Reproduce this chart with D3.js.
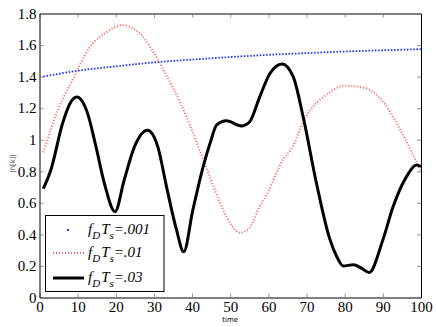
<!DOCTYPE html>
<html>
<head>
<meta charset="utf-8">
<script src="https://cdn.jsdelivr.net/npm/d3@7"></script>
</head>
<body style="margin:0">
<svg id="chart" width="436" height="327" font-family="Liberation Serif"></svg>
<script>
// values
const xTicks = [0, 10, 20, 30, 40, 50, 60, 70, 80, 90, 100]
const yTicks = [0, 0.2, 0.4, 0.6, 0.8, 1, 1.2, 1.4, 1.6, 1.8]

const blueT = [1, 10, 20, 30, 40, 50, 60, 70, 80, 90, 100]
const blueV = [1.40, 1.437, 1.465, 1.49, 1.508, 1.524, 1.538, 1.549, 1.559, 1.567, 1.574]

const redT = [1, 5, 8.7, 13, 17.5, 21.4, 26, 30, 33, 37, 43, 47, 50, 52.5, 55, 57.7, 59.5, 64, 66, 69.7, 75.5, 80, 85, 89, 95.5, 98.4, 100]
const redV = [0.92, 1.2, 1.38, 1.58, 1.68, 1.726, 1.68, 1.55, 1.42, 1.23, 0.87, 0.62, 0.47, 0.41, 0.44, 0.576, 0.65, 0.88, 0.94, 1.14, 1.29, 1.342, 1.33, 1.27, 1.02, 0.88, 0.80]

const blackT = [1, 3, 6, 8, 9.8, 12.6, 14.8, 17, 19.8, 22.2, 24.9, 28.3, 31, 33.4, 35.9, 37.8, 40.2, 42.9, 45, 46.4, 49, 52.9, 55.1, 57.7, 60.4, 63.6, 66.5, 69.1, 72.6, 76.1, 77.9, 79.6, 82.3, 84.4, 86.4, 90, 92.7, 96.2, 98.8, 100]
const blackV = [0.69, 0.81, 1.10, 1.23, 1.27, 1.167, 0.956, 0.724, 0.545, 0.745, 0.956, 1.06, 0.956, 0.69, 0.43, 0.29, 0.555, 0.83, 1.0, 1.093, 1.12, 1.087, 1.114, 1.27, 1.42, 1.48, 1.40, 1.146, 0.724, 0.37, 0.26, 0.20, 0.207, 0.186, 0.158, 0.365, 0.576, 0.766, 0.84, 0.83]

const legendLabels = ['.001', '.01', '.03']

const margin = { top: 13.5, right: 15, bottom: 29.5, left: 39.5 }
const width = 436, height = 327
const svg = d3.select('#chart')

const x = d3.scaleLinear().domain([0, 100]).range([margin.left, width - margin.right])
const y = d3.scaleLinear().domain([0, 1.8]).range([height - margin.bottom, margin.top])

// axes, ticks pointing inward (box with mirrored ticks)
const axes = [
  svg.append('g')
    .attr('transform', `translate(0,${y(0)})`)
    .call(d3.axisBottom(x).tickValues(xTicks).tickSizeInner(-4).tickSizeOuter(0).tickPadding(4).tickFormat(d3.format('d'))),
  svg.append('g')
    .attr('transform', `translate(0,${y(1.8)})`)
    .call(d3.axisTop(x).tickValues(xTicks).tickSizeInner(-4).tickSizeOuter(0).tickFormat('')),
  svg.append('g')
    .attr('transform', `translate(${x(0)},0)`)
    .call(d3.axisLeft(y).tickValues(yTicks).tickSizeInner(-4).tickSizeOuter(0).tickPadding(3).tickFormat(d => d3.format('~g')(d))),
  svg.append('g')
    .attr('transform', `translate(${x(100)},0)`)
    .call(d3.axisRight(y).tickValues(yTicks).tickSizeInner(-4).tickSizeOuter(0).tickFormat('')),
]
axes.forEach(g => g.attr('font-family', null).attr('font-size', null))

svg.selectAll('.tick text')
  .attr('font-family', 'Liberation Serif')
  .attr('font-size', 15)
  .attr('fill', '#000')
svg.selectAll('.domain').attr('stroke', '#000').attr('stroke-width', 1)
svg.selectAll('.tick line').attr('stroke', '#777').attr('stroke-width', 0.8)

// axis titles
svg.append('text')
  .attr('x', x(50)).attr('y', 322)
  .attr('text-anchor', 'middle')
  .attr('font-family', 'DejaVu Sans').attr('font-size', 7)
  .text('time')
svg.append('text')
  .attr('transform', `translate(15,${y(0.85)}) rotate(-90)`)
  .attr('text-anchor', 'middle')
  .attr('font-family', 'DejaVu Sans').attr('font-size', 7).attr('fill', '#444')
  .text('|h[k]|')

const line = d3.line()
  .x(d => x(d[0]))
  .y(d => y(d[1]))
  .curve(d3.curveMonotoneX)

const plot = svg.append('g')

plot.append('path')
  .datum(d3.zip(blueT, blueV))
  .attr('fill', 'none')
  .attr('stroke', '#1a3cff')
  .attr('stroke-width', 1.8)
  .attr('stroke-dasharray', '1.6,1.6')
  .attr('d', line)

plot.append('path')
  .datum(d3.zip(redT, redV))
  .attr('fill', 'none')
  .attr('stroke', '#ff5a5a')
  .attr('stroke-width', 2)
  .attr('stroke-dasharray', '1,2')
  .attr('d', line)

plot.append('path')
  .datum(d3.zip(blackT, blackV))
  .attr('fill', 'none')
  .attr('stroke', '#000')
  .attr('stroke-width', 3)
  .attr('stroke-linejoin', 'round')
  .attr('d', line)

// legend
const legend = svg.append('g')
legend.append('rect')
  .attr('x', 45.5).attr('y', 215.5).attr('width', 118.5).attr('height', 76)
  .attr('fill', '#fff').attr('stroke', '#000').attr('stroke-width', 1)

const rows = [230, 253, 278]
legend.append('rect')
  .attr('x', 67).attr('y', rows[0] - 1).attr('width', 2).attr('height', 2)
  .attr('fill', '#1a3cff')
legend.append('line')
  .attr('x1', 53).attr('x2', 84).attr('y1', rows[1]).attr('y2', rows[1])
  .attr('stroke', '#ff5a5a').attr('stroke-width', 2).attr('stroke-dasharray', '1,2')
legend.append('line')
  .attr('x1', 53).attr('x2', 84).attr('y1', rows[2]).attr('y2', rows[2])
  .attr('stroke', '#000').attr('stroke-width', 3)

legendLabels.forEach((lab, i) => {
  const t = legend.append('text')
    .attr('x', 88).attr('y', rows[i] + 4)
    .attr('font-family', 'Liberation Serif')
    .attr('font-style', 'italic').attr('font-size', 15)
  t.append('tspan').text('f')
  t.append('tspan').attr('dy', 5).attr('font-size', 11).text('D')
  t.append('tspan').attr('dy', -5).attr('dx', 1).text('T')
  t.append('tspan').attr('dy', 5).attr('font-size', 11).text('s')
  t.append('tspan').attr('dy', -5).text('=' + lab)
})
</script>
</body>
</html>
